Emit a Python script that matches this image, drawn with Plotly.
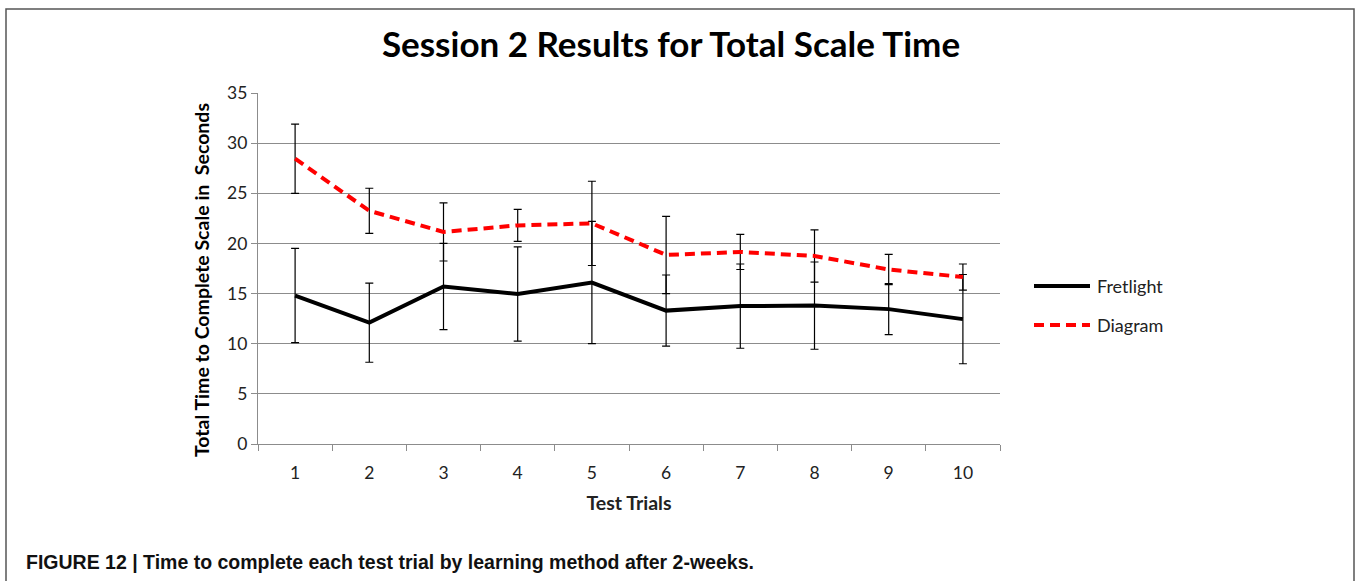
import plotly.graph_objects as go

trials = [1, 2, 3, 4, 5, 6, 7, 8, 9, 10]
fretlight = [14.8, 12.1, 15.7, 14.95, 16.1, 13.3, 13.75, 13.8, 13.45, 12.45]
fretlight_err = [4.7, 3.95, 4.3, 4.7, 6.1, 3.55, 4.2, 4.35, 2.55, 4.45]
diagram = [28.45, 23.25, 21.15, 21.8, 22.0, 18.85, 19.15, 18.75, 17.4, 16.65]
diagram_err = [3.45, 2.25, 2.9, 1.6, 4.2, 3.85, 1.75, 2.6, 1.5, 1.3]
y_ticks = [0, 5, 10, 15, 20, 25, 30, 35]
series_names = ["Fretlight", "Diagram"]

W, H = 1357, 581
L, R, T, B = 258, 1000, 93, 444


def px(x):
    return (x - L) / (R - L)


def py(y):
    return (B - y) / (B - T)


FONT = "Lato, 'Open Sans', sans-serif"
NARROW = "'Liberation Sans Narrow', 'Arial Narrow', 'Liberation Sans', sans-serif"
GRID = "#8c8c8c"

fig = go.Figure()
fig.add_trace(go.Scatter(
    x=trials, y=fretlight, name=series_names[0], mode="lines",
    line=dict(color="black", width=4),
    error_y=dict(type="data", array=fretlight_err, visible=True,
                 color="black", thickness=1.2, width=4),
))
fig.add_trace(go.Scatter(
    x=trials, y=diagram, name=series_names[1], mode="lines",
    line=dict(color="#ff0000", width=4, dash="10px,6px"),
    error_y=dict(type="data", array=diagram_err, visible=True,
                 color="black", thickness=1.2, width=4),
))

fig.update_layout(
    width=W, height=H,
    margin=dict(l=L, r=W - R, t=T, b=H - B),
    paper_bgcolor="white", plot_bgcolor="white",
    font=dict(family=FONT, color="#222"),
    title=dict(text="<b>Session 2 Results for Total Scale Time</b>",
               font=dict(family=FONT, size=35, color="black"),
               x=671 / W, xanchor="center", xref="container",
               y=1 - 45 / H, yanchor="middle", yref="container"),
    showlegend=False,
    xaxis=dict(
        range=[0.5, 10.5], tickmode="array", tickvals=trials,
        ticktext=[str(t) for t in trials],
        ticks="", showgrid=False, zeroline=False,
        showline=True, linecolor=GRID, linewidth=1.2,
        ticklabelstandoff=13,
        tickfont=dict(family=FONT, size=17.5, color="#222"),
        minor=dict(ticks="outside", tick0=0.5, dtick=1, ticklen=6,
                   tickcolor=GRID, showgrid=False),
        title=dict(text="<b>Test Trials</b>", font=dict(family=FONT, size=19.5, color="#222"),
                   standoff=14),
    ),
    yaxis=dict(
        range=[0, 35], tickmode="array", tickvals=y_ticks,
        ticks="outside", ticklen=6, tickcolor=GRID,
        showgrid=True, gridcolor=GRID, gridwidth=1.2,
        zeroline=False, showline=True, linecolor=GRID, linewidth=1.2,
        tickfont=dict(family=FONT, size=17.5, color="#222"),
    ),
)

# y-axis title placed as in the original (slightly below plot centre)
fig.add_annotation(text="<b>Total Time to Complete Scale in  Seconds</b>",
                   xref="paper", yref="paper", x=px(201), y=py(280),
                   xanchor="center", yanchor="middle", textangle=-90,
                   showarrow=False, font=dict(family=FONT, size=19.5, color="black"))

# manual legend (long line samples like the original)
legend_y = [286, 325]
legend_styles = [dict(color="black", width=4),
                 dict(color="#ff0000", width=4, dash="10px,6px")]
for name, ly, st in zip(series_names, legend_y, legend_styles):
    fig.add_shape(type="line", xref="paper", yref="paper",
                  x0=px(1034), x1=px(1090), y0=py(ly), y1=py(ly), line=st)
    fig.add_annotation(text=name, xref="paper", yref="paper",
                       x=px(1095), y=py(ly), xanchor="left", yanchor="middle",
                       showarrow=False, font=dict(family=FONT, size=18, color="#222"))

# outer figure frame
fig.add_shape(type="rect", xref="paper", yref="paper",
              x0=px(6), x1=px(1354), y0=py(640), y1=py(9),
              line=dict(color="#555", width=1.5), fillcolor="rgba(0,0,0,0)",
              layer="below")

fig.add_annotation(
    text="<b>FIGURE 12 | Time to complete each test trial by learning method after 2-weeks.</b>",
    xref="paper", yref="paper", x=px(24), y=py(562), xanchor="left", yanchor="middle",
    showarrow=False, font=dict(family=NARROW, size=19.5, color="#111"))

fig.write_html("out.html", config={"displayModeBar": False},
               post_script="document.body.style.margin='0';")
